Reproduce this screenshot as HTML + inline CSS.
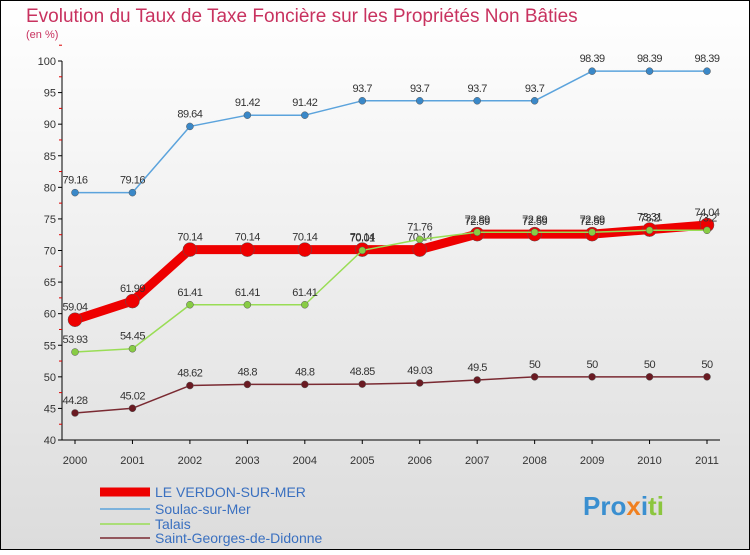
<!DOCTYPE html>
<html><head><meta charset="utf-8"><style>
html,body{margin:0;padding:0;}
body{width:750px;height:550px;overflow:hidden;font-family:"Liberation Sans",sans-serif;}
svg text{font-family:"Liberation Sans",sans-serif;}
</style></head><body>
<svg id="chart" width="750" height="550" xmlns="http://www.w3.org/2000/svg">
<defs>
<linearGradient id="bg" x1="0" y1="0" x2="0" y2="1">
<stop offset="0" stop-color="#ffffff"/><stop offset="1" stop-color="#dcdcdc"/>
</linearGradient>
</defs>
<rect x="0.5" y="0.5" width="749" height="549" fill="url(#bg)" stroke="#000"/>
<text x="26" y="22" font-size="19" fill="#c8325f">Evolution du Taux de Taxe Foncière sur les Propriétés Non Bâties</text>
<text x="26" y="38" font-size="11" fill="#c8325f">(en %)</text>
<g id="axes"></g>
<g id="series"></g>
<g id="legend"></g>
<text x="583" y="515" font-size="26" font-weight="bold"><tspan fill="#3a8fd0">Pro</tspan><tspan fill="#f08020">x</tspan><tspan fill="#3a8fd0">i</tspan><tspan fill="#8cc63f">ti</tspan></text>
</svg>
<script>
const years=[2000,2001,2002,2003,2004,2005,2006,2007,2008,2009,2010,2011];
const yTicks=[40,45,50,55,60,65,70,75,80,95,90,85,100];
const verdon=[59.04,61.99,70.14,70.14,70.14,70.14,70.14,72.59,72.59,72.59,73.31,74.04];
const soulac=[79.16,79.16,89.64,91.42,91.42,93.7,93.7,93.7,93.7,98.39,98.39,98.39];
const talais=[53.93,54.45,61.41,61.41,61.41,70.01,71.76,72.89,72.89,72.89,73.2,73.2];
const stgeorges=[44.28,45.02,48.62,48.8,48.8,48.85,49.03,49.5,50,50,50,50];
const seriesNames=["LE VERDON-SUR-MER","Soulac-sur-Mer","Talais","Saint-Georges-de-Didonne"];

const NS="http://www.w3.org/2000/svg";
const x=i=>75+i*(707-75)/(years.length-1);
const y=v=>440-(v-40)*(440-61)/60;
function el(t,a,p){const e=document.createElementNS(NS,t);for(const k in a)e.setAttribute(k,a[k]);p.appendChild(e);return e;}
const axes=document.getElementById('axes');
const ax=el('line',{x1:62,y1:61,x2:62,y2:440,stroke:'#000'},axes);


const xa=el('line',{x1:62,y1:440,x2:720,y2:440,stroke:'#000'},axes);


yTicks.forEach(v=>{
 el('line',{x1:58,y1:y(v),x2:62,y2:y(v),stroke:'#000'},axes);
 el('line',{x1:59,y1:y(v+2.5),x2:62,y2:y(v+2.5),stroke:'#d00'},axes);
 const t=el('text',{x:56,y:y(v)+4,'font-size':11,'text-anchor':'end',fill:'#333'},axes);
 t.textContent=v;
 
 
});
years.forEach((yr,i)=>{
 el('line',{x1:x(i),y1:440,x2:x(i),y2:444,stroke:'#000'},axes);
 const t=el('text',{x:x(i),y:464,'font-size':11,'text-anchor':'middle',fill:'#333'},axes);
 t.textContent=yr;
 
 
});
const sg=document.getElementById('series');
function draw(vals,color,w,r,fill,name){
 const g=el('g',{},sg);
 
 
 el('polyline',{points:vals.map((v,i)=>x(i)+','+y(v)).join(' '),fill:'none',stroke:color,'stroke-width':w,'stroke-linejoin':'round'},g);
 vals.forEach((v,i)=>{
  const c=el('circle',{cx:x(i),cy:y(v),r:r,fill:fill,stroke:'#555','stroke-width':0.5},g);
  
  
  const t=el('text',{x:x(i),y:y(v)-9,'font-size':11,'text-anchor':'middle',fill:'#333','letter-spacing':'-0.5'},g);
  t.textContent=v;
  
  
 });
}
draw(soulac,'#5ba3dc',1.5,3.5,'#3a88c8','soulac-series');
draw(stgeorges,'#7a2a32',1.5,3.5,'#6a1a22','saint-georges-series');
draw(verdon,'#ee0000',9,7,'#ee0000','le-verdon-series');
draw(talais,'#99dd55',1.5,3.5,'#88cc44','talais-series');
const lg=document.getElementById('legend');
const lc=['#ee0000','#5ba3dc','#99dd55','#7a2a32'],lw=[9,1.5,1.5,1.5],ly=[492,509,524,538];
seriesNames.forEach((n,i)=>{
 const g=el('g',{},lg);
 
 
 el('line',{x1:100,y1:ly[i],x2:150,y2:ly[i],stroke:lc[i],'stroke-width':lw[i]},g);
 const t=el('text',{x:155,y:ly[i]+5,'font-size':14,fill:'#3a70c0'},g);
 t.textContent=n;
});
</script>
</body></html>
